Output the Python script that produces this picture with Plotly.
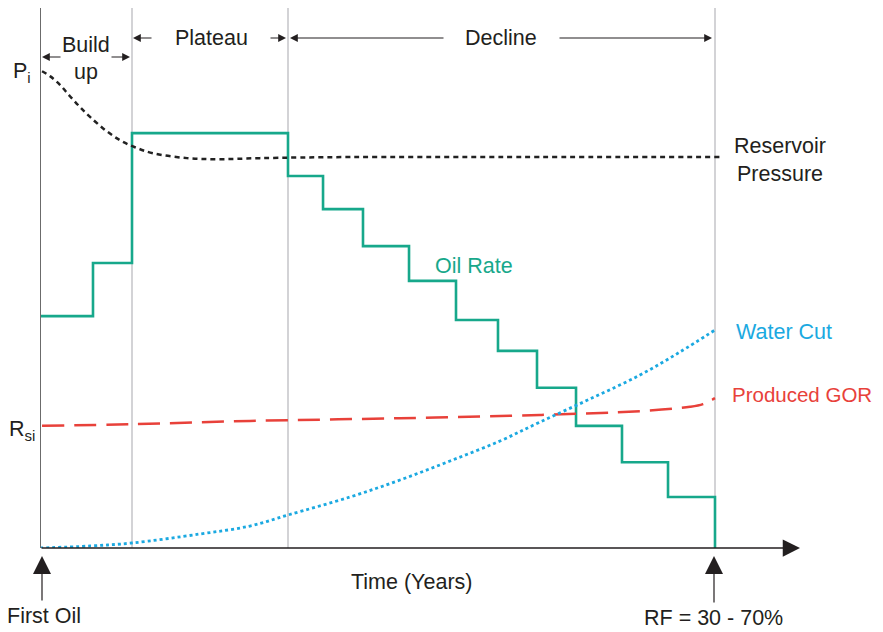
import plotly.graph_objects as go

# ---------------- data (schematic production profile) ----------------
phase_names = ["Build", "Plateau", "Decline"]
phase_bounds = [0.0, 1.363, 3.674, 10.0]          # time (years, schematic)

oil_t = [0, 0.785, 1.363, 3.674, 4.193, 4.785, 5.467, 6.163, 6.785, 7.363,
         7.941, 8.622, 9.304, 10.0]
oil_rate = [42.7, 52.5, 76.4, 68.5, 62.4, 55.6, 49.2, 42.0, 36.3, 29.5,
            22.5, 15.8, 9.4]

pres_t = [0.03, 0.148, 0.296, 0.444, 0.593, 0.741, 0.963, 1.185, 1.407,
          1.674, 2.178, 2.667, 3.259, 4.593, 6.815, 10.07]
pres_v = [87.8, 86.9, 85.3, 83.2, 81.2, 79.4, 77.0, 75.1, 73.8,
          72.7, 71.8, 71.6, 71.8, 72.0, 72.0, 72.0]

wc_t = [0, 0.741, 1.363, 2.370, 3.111, 3.674, 4.593, 5.333, 6.074, 6.815,
        7.407, 8.148, 8.889, 9.481, 10.0]
wc_v = [0, 0.37, 0.92, 2.58, 4.05, 6.08, 9.39, 12.52, 16.02, 19.71,
        23.20, 27.44, 31.86, 36.10, 40.15]

gor_t = [0.03, 1.363, 3.111, 5.333, 7.407, 8.889, 9.63, 9.822, 10.0]
gor_v = [22.5, 22.8, 23.4, 23.9, 24.5, 25.2, 26.0, 26.5, 27.6]

# ---------------- styling / layout helpers ----------------
PAGE_OFF = 8                      # browser default body margin
W, H = 883 - PAGE_OFF, 632 - PAGE_OFF
L, R, T, B = 40 - PAGE_OFF, 73, 0, 84
PW, PH = W - L - R, H - T - B
XS = 67.5            # px per year
YS = 5.43            # px per unit
FONT = "Liberation Sans, Arial, sans-serif"
FS = 21.5
TXT = "#231f20"
TEAL = "#17a88b"
BLUE = "#1ba9e1"
RED = "#e8413a"


def X(px):
    return (px - 40) / XS


def Y(py):
    return (548 - py) / YS


def PXp(px):
    return (px - 40) / PW


def PYp(py):
    return (548 - py) / PH


fig = go.Figure()

# oil rate (stepped)
fig.add_trace(go.Scatter(
    x=oil_t + [oil_t[-1]], y=oil_rate + [oil_rate[-1], 0],
    mode="lines", line=dict(color=TEAL, width=2.6, shape="hv"),
    hoverinfo="skip"))
# reservoir pressure
fig.add_trace(go.Scatter(
    x=pres_t, y=pres_v, mode="lines",
    line=dict(color="#222222", width=2.5, dash="5px,4px", shape="spline"),
    hoverinfo="skip"))
# produced GOR
fig.add_trace(go.Scatter(
    x=gor_t, y=gor_v, mode="lines",
    line=dict(color=RED, width=2.5, dash="22px,10px", shape="spline"),
    hoverinfo="skip"))
# water cut
fig.add_trace(go.Scatter(
    x=wc_t, y=wc_v, mode="lines",
    line=dict(color=BLUE, width=2.8, dash="dot", shape="spline"),
    hoverinfo="skip"))

shapes = []
# phase boundary lines
for b in phase_bounds[1:]:
    shapes.append(dict(type="line", xref="x", yref="y", x0=b, x1=b, y0=0, y1=100,
                       line=dict(color="#c5c5c8", width=1.5), layer="below"))
# y axis line
shapes.append(dict(type="line", xref="x", yref="y", x0=0, x1=0, y0=0, y1=100,
                   line=dict(color="#6b6b6b", width=2)))

ann = []


def text(t, px, py, color=TXT, xanchor="center", size=FS, paper_x=False, paper_y=False):
    ann.append(dict(
        text=t, showarrow=False,
        x=PXp(px) if paper_x else X(px), xref="paper" if paper_x else "x",
        y=PYp(py) if paper_y else Y(py), yref="paper" if paper_y else "y",
        xanchor=xanchor, yanchor="middle", borderpad=0,
        font=dict(family=FONT, size=size, color=color)))


def arrow(hx, hy, dx, dy, width=1.2, size=1.3, paper_y=False):
    ann.append(dict(
        text="", showarrow=True, arrowhead=2, arrowsize=size, arrowwidth=width,
        arrowcolor=TXT, standoff=0, startstandoff=0,
        x=X(hx), xref="x",
        y=PYp(hy) if paper_y else Y(hy), yref="paper" if paper_y else "y",
        ax=dx, ay=dy, axref="pixel", ayref="pixel"))


# phase labels and arrows
text(phase_names[0], 86, 45)
text("up", 86, 72)
arrow(42, 57, 20, 0)
arrow(130, 57, -20, 0)
text(phase_names[1], 211, 38)
arrow(133, 38, 20, 0)
arrow(286, 38, -17, 0)
text(phase_names[2], 501, 38)
arrow(290, 38, 155, 0)
arrow(712, 38, -154, 0)

# series labels
text("Oil Rate", 474, 266, color=TEAL)
text("Reservoir<br>Pressure", 780, 160)
text("Water Cut", 735, 332, color=BLUE, xanchor="left")
text("Produced GOR", 731, 394, color=RED, xanchor="left", size=20.5)

# y reference labels
text("P<sub>i</sub>", 22, 72, paper_x=True)
text("R<sub>si</sub>", 22, 430, paper_x=True)

# x axis with arrow
arrow(800, 548, -760, 0, width=1.5, size=2.3)
text("Time (Years)", 411, 582, paper_y=True)

# first oil / RF markers
arrow(42, 556, 0, 46, width=1.2, size=3, paper_y=True)
text("First Oil", 44, 616, paper_y=True)
arrow(714, 556, 0, 48, width=1.2, size=3, paper_y=True)
text("RF = 30 - 70%", 713, 618, paper_y=True)

fig.update_layout(
    width=W, height=H, autosize=False,
    margin=dict(l=L, r=R, t=T, b=B, pad=0),
    paper_bgcolor="white", plot_bgcolor="white",
    showlegend=False,
    xaxis=dict(range=[0, PW / XS], showgrid=False, zeroline=False,
               showticklabels=False, showline=False, ticks="", fixedrange=True),
    yaxis=dict(range=[0, PH / YS], showgrid=False, zeroline=False,
               showticklabels=False, showline=False, ticks="", fixedrange=True),
    shapes=shapes, annotations=ann,
    font=dict(family=FONT, color=TXT),
)

fig.write_html("out.html")
